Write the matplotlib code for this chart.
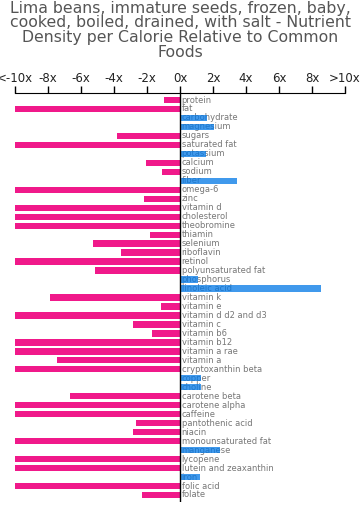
import matplotlib
matplotlib.use("Agg")
import matplotlib.pyplot as plt

nutrients = ["protein", "fat", "carbohydrate", "magnesium", "sugars", "saturated fat",
             "potassium", "calcium", "sodium", "fiber", "omega-6", "zinc", "vitamin d",
             "cholesterol", "theobromine", "thiamin", "selenium", "riboflavin", "retinol",
             "polyunsaturated fat", "phosphorus", "linoleic acid", "vitamin k", "vitamin e",
             "vitamin d d2 and d3", "vitamin c", "vitamin b6", "vitamin b12", "vitamin a rae",
             "vitamin a", "cryptoxanthin beta", "copper", "choline", "carotene beta",
             "carotene alpha", "caffeine", "pantothenic acid", "niacin",
             "monounsaturated fat", "manganese", "lycopene", "lutein and zeaxanthin",
             "iron", "folic acid", "folate"]
values = [-1.0, -10, 1.65, 2.08, -3.8, -10,
          1.58, -2.06, -1.1, 3.47, -10, -2.18, -10,
          -10, -10, -1.8, -5.3, -3.56, -10,
          -5.17, 1.11, 8.55, -7.85, -1.15,
          -10, -2.85, -1.72, -10, -10,
          -7.43, -10, 1.29, 1.25, -6.67,
          -10, -10, -2.67, -2.83,
          -10, 2.42, -10, -10,
          1.23, -10, -2.3]
tick_vals = [-10, -8, -6, -4, -2, 0, 2, 4, 6, 8, 10]
tick_labels = ["<-10x", "-8x", "-6x", "-4x", "-2x", "0x", "2x", "4x", "6x", "8x", ">10x"]

title = ("Lima beans, immature seeds, frozen, baby,\ncooked, boiled, drained, with salt - Nutrient\n"
         "Density per Calorie Relative to Common\nFoods")

fig = plt.figure(figsize=(3.6, 5.14), dpi=100)
ax = fig.add_axes([15 / 360, 12 / 514, 330 / 360, 409 / 514])

for y, (name, v) in enumerate(zip(nutrients, values)):
    if v > 0:
        # blue bars are see-through so the label under them still shows
        ax.barh(y, v, height=0.7, color="#0077e6", alpha=0.75, zorder=3)
    else:
        ax.barh(y, v, height=0.7, color="#f0198a", zorder=3)
    ax.text(0.1, y, name, fontsize=6, color="#777777", va="center", ha="left", zorder=2)

ax.axvline(0, color="black", linewidth=1, zorder=4)
ax.set_xlim(-10, 10)
ax.set_ylim(len(values) - 1 + 0.78, -0.78)
ax.xaxis.tick_top()
ax.set_xticks(tick_vals)
ax.set_xticklabels(tick_labels, fontsize=8.5, color="#222222")
ax.tick_params(axis="x", length=5, width=1, pad=1)
ax.set_yticks([])
for s in ["left", "right", "bottom"]:
    ax.spines[s].set_visible(False)

fig.text(0.5, 0.999, title, ha="center", va="top", fontsize=11.3, color="#555555",
         linespacing=0.98)

fig.savefig("out.png", dpi=100)
